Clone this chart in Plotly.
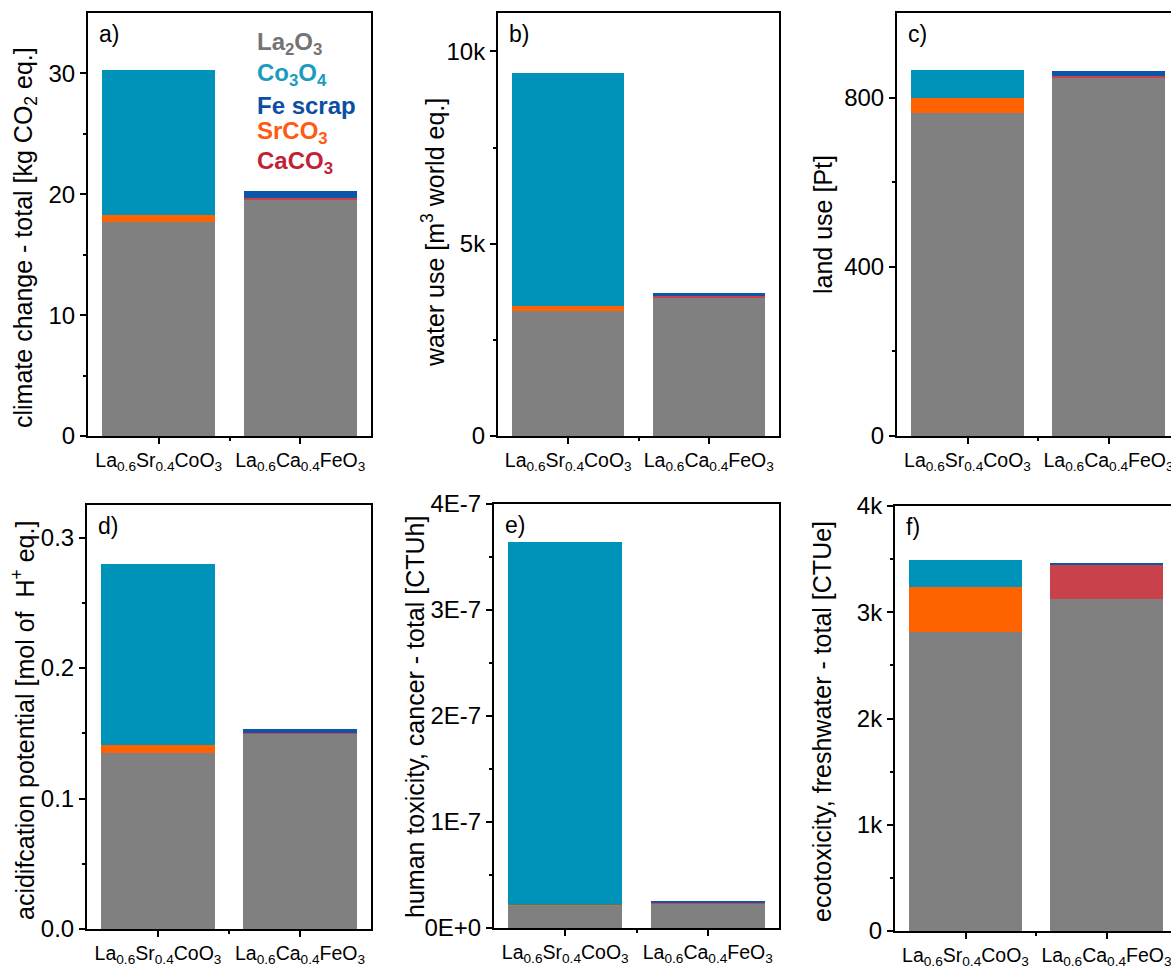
import plotly.graph_objects as go

# ---------------- data ----------------
categories = ["La<sub>0.6</sub>Sr<sub>0.4</sub>CoO<sub>3</sub>",
              "La<sub>0.6</sub>Ca<sub>0.4</sub>FeO<sub>3</sub>"]
components = ["La2O3", "SrCO3", "CaCO3", "Co3O4", "Fe scrap"]
legend_labels = ["La<sub>2</sub>O<sub>3</sub>", "Co<sub>3</sub>O<sub>4</sub>", "Fe scrap",
                 "SrCO<sub>3</sub>", "CaCO<sub>3</sub>"]

# a) climate change [kg CO2 eq.]
climate_La2O3 = [17.7, 19.55]
climate_SrCO3 = [0.6, 0.0]
climate_CaCO3 = [0.0, 0.12]
climate_Co3O4 = [11.95, 0.0]
climate_Fe = [0.0, 0.63]

# b) water use [m3 world eq.]
water_La2O3 = [3240, 3600]
water_SrCO3 = [130, 0]
water_CaCO3 = [0, 40]
water_Co3O4 = [6060, 0]
water_Fe = [0, 90]

# c) land use [Pt]
land_La2O3 = [764, 848]
land_SrCO3 = [34, 0]
land_CaCO3 = [0, 2]
land_Co3O4 = [68, 0]
land_Fe = [0, 12]

# d) acidification [mol H+ eq.]
acid_La2O3 = [0.135, 0.1495]
acid_SrCO3 = [0.006, 0.0]
acid_CaCO3 = [0.0, 0.0005]
acid_Co3O4 = [0.139, 0.0]
acid_Fe = [0.0, 0.003]

# e) human toxicity, cancer [CTUh]
htox_La2O3 = [2.10e-8, 2.30e-8]
htox_SrCO3 = [0.08e-8, 0.0]
htox_CaCO3 = [0.0, 0.03e-8]
htox_Co3O4 = [3.422e-7, 0.0]
htox_Fe = [0.0, 0.2e-8]

# f) ecotoxicity freshwater [CTUe]
eco_La2O3 = [2815, 3126]
eco_SrCO3 = [424, 0]
eco_CaCO3 = [0, 320]
eco_Co3O4 = [254, 0]
eco_Fe = [0, 20]

# ---------------- styling ----------------
colors = {"La2O3": "#808080", "SrCO3": "#ff6200", "CaCO3": "#c8414b",
          "Co3O4": "#0093b9", "Fe scrap": "#0a56a8"}
legend_colors = ["#737373", "#1a9cc0", "#0b4ea3", "#ff5a12", "#c21f38"]
FONT = "Liberation Sans, Arial, sans-serif"
W, H = 1171, 968


def xd(a, b):
    return [a / W, min(b / W, 1.0)]


def yd(top, bottom):
    return [1 - bottom / H, 1 - top / H]


panels = [
    dict(series=[climate_La2O3, climate_SrCO3, climate_CaCO3, climate_Co3O4, climate_Fe],
         xpx=(88, 371), ypx=(13, 436), xr=[-0.5, 1.5], yr=[0, 35],
         tv=[0, 10, 20, 30], tt=["0", "10", "20", "30"], minor=[5, 15, 25],
         title="climate change - total [kg CO<sub>2</sub> eq.]", tpos=(25, 238), letter="a)"),
    dict(series=[water_La2O3, water_SrCO3, water_CaCO3, water_Co3O4, water_Fe],
         xpx=(498, 779), ypx=(13, 436), xr=[-0.5, 1.5], yr=[0, 11000],
         tv=[0, 5000, 10000], tt=["0", "5k", "10k"], minor=[2500, 7500],
         title="water use [m<sup>3</sup> world eq.]", tpos=(433, 233), letter="b)"),
    dict(series=[land_La2O3, land_SrCO3, land_CaCO3, land_Co3O4, land_Fe],
         xpx=(897, 1171), ypx=(13, 436), xr=[-0.5, -0.5 + 274 / 141], yr=[0, 1000],
         tv=[0, 400, 800], tt=["0", "400", "800"], minor=[200, 600],
         title="land use [Pt]", tpos=(823, 225), letter="c)", clip=True),
    dict(series=[acid_La2O3, acid_SrCO3, acid_CaCO3, acid_Co3O4, acid_Fe],
         xpx=(87, 371), ypx=(505, 929), xr=[-0.5, 1.5], yr=[0, 0.325],
         tv=[0, 0.1, 0.2, 0.3], tt=["0.0", "0.1", "0.2", "0.3"], minor=[0.05, 0.15, 0.25],
         title="acidifcation potential [mol of\u00a0 H<sup>+</sup> eq.]", tpos=(23, 721), letter="d)"),
    dict(series=[htox_La2O3, htox_SrCO3, htox_CaCO3, htox_Co3O4, htox_Fe],
         xpx=(494, 779), ypx=(504, 928), xr=[-0.5, 1.5], yr=[0, 4e-7],
         tv=[0, 1e-7, 2e-7, 3e-7, 4e-7], tt=["0E+0", "1E-7", "2E-7", "3E-7", "4E-7"],
         minor=[0.5e-7, 1.5e-7, 2.5e-7, 3.5e-7],
         title="human toxicity, cancer - total [CTUh]", tpos=(415, 717), letter="e)"),
    dict(series=[eco_La2O3, eco_SrCO3, eco_CaCO3, eco_Co3O4, eco_Fe],
         xpx=(895, 1171), ypx=(506, 931), xr=[-0.5, -0.5 + 276 / 141], yr=[0, 4000],
         tv=[0, 1000, 2000, 3000, 4000], tt=["0", "1k", "2k", "3k", "4k"],
         minor=[500, 1500, 2500, 3500],
         title="ecotoxicity, freshwater - total [CTUe]", tpos=(822, 721), letter="f)", clip=True),
]

fig = go.Figure()
annotations = []
x_positions = [0, 1]

for i, p in enumerate(panels):
    k = "" if i == 0 else str(i + 1)
    for comp, vals in zip(components, p["series"]):
        fig.add_trace(go.Bar(x=x_positions, y=vals, width=0.8, name=comp,
                             marker=dict(color=colors[comp], line=dict(width=0)),
                             xaxis="x" + k, yaxis="y" + k, showlegend=False))
    axis_common = dict(showline=True, linewidth=2, linecolor="black", showgrid=False,
                       zeroline=False, ticks="outside", tickwidth=2, tickcolor="black",
                       automargin=False, ticklabeloverflow="allow",
                       tickfont=dict(family=FONT, size=24, color="black"))
    fig.layout["xaxis" + k] = dict(
        axis_common, domain=xd(*p["xpx"]), range=p["xr"], anchor="y" + k,
        tickmode="array", tickvals=x_positions, ticktext=categories, ticklen=6,
        tickfont=dict(family=FONT, size=19.5, color="black"), mirror=True,
        minor=dict(tickmode="array", tickvals=[0.5], ticklen=3, tickwidth=2,
                   ticks="outside", tickcolor="black"))
    fig.layout["yaxis" + k] = dict(
        axis_common, domain=yd(*p["ypx"]), range=p["yr"], anchor="x" + k,
        tickmode="array", tickvals=p["tv"], ticktext=p["tt"], ticklen=6,
        mirror=not p.get("clip", False),
        minor=dict(tickmode="array", tickvals=p["minor"], ticklen=3, tickwidth=2,
                   ticks="outside", tickcolor="black"))
    # panel letter
    annotations.append(dict(text=p["letter"], x=(p["xpx"][0] + 9) / W,
                            y=1 - (p["ypx"][0] + 21) / H, xref="paper", yref="paper",
                            xanchor="left", yanchor="middle", showarrow=False,
                            font=dict(family=FONT, size=23, color="black")))
    # y-axis title
    annotations.append(dict(text=p["title"], x=p["tpos"][0] / W, y=1 - p["tpos"][1] / H,
                            xref="paper", yref="paper", xanchor="center", yanchor="middle",
                            textangle=-90, showarrow=False,
                            font=dict(family=FONT, size=25, color="black")))

# colored legend text in panel a
legend_y = [44, 74, 105, 133, 162]
for lab, col, yy in zip(legend_labels, legend_colors, legend_y):
    annotations.append(dict(text="<b>" + lab + "</b>", x=255 / W, y=1 - yy / H,
                            xref="paper", yref="paper", xanchor="left", yanchor="middle",
                            showarrow=False, font=dict(family=FONT, size=24, color=col)))

fig.update_layout(width=W, height=H, margin=dict(l=0, r=0, t=0, b=0, autoexpand=False),
                  barmode="stack", showlegend=False,
                  plot_bgcolor="white", paper_bgcolor="white",
                  annotations=annotations, font=dict(family=FONT))

fig.write_html("out.html", config={"displayModeBar": False},
               post_script="document.body.style.margin='0';"
                           "document.body.style.overflow='hidden';")
